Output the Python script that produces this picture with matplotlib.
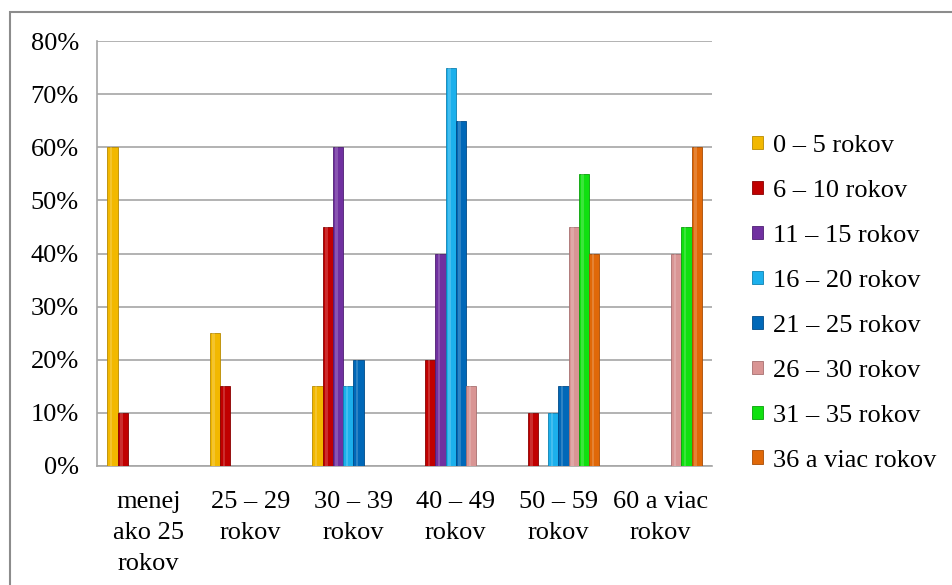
import matplotlib
matplotlib.use("Agg")
import matplotlib.pyplot as plt
import numpy as np
from matplotlib.patches import Rectangle

categories = ["menej\nako 25\nrokov", "25 – 29\nrokov", "30 – 39\nrokov",
              "40 – 49\nrokov", "50 – 59\nrokov", "60 a viac\nrokov"]
series = ["0 – 5 rokov", "6 – 10 rokov", "11 – 15 rokov", "16 – 20 rokov",
          "21 – 25 rokov", "26 – 30 rokov", "31 – 35 rokov", "36 a viac rokov"]
v_0_5 = [60, 25, 15, 0, 0, 0]
v_6_10 = [10, 15, 45, 20, 10, 0]
v_11_15 = [0, 0, 60, 40, 0, 0]
v_16_20 = [0, 0, 15, 75, 10, 0]
v_21_25 = [0, 0, 20, 65, 15, 0]
v_26_30 = [0, 0, 0, 15, 45, 40]
v_31_35 = [0, 0, 0, 0, 55, 45]
v_36 = [0, 0, 0, 0, 40, 60]
values = [v_0_5, v_6_10, v_11_15, v_16_20, v_21_25, v_26_30, v_31_35, v_36]
colors = ["#F2B800", "#C00000", "#7030A0", "#1CB0EC",
          "#0068B8", "#D99594", "#10E010", "#E06808"]
edges = ["#B88A00", "#8A0000", "#4E1F74", "#0E80B0",
         "#004A88", "#A87070", "#08A008", "#A84C04"]

plt.rcParams['font.family'] = ['Liberation Serif', 'DejaVu Serif']

fig = plt.figure(figsize=(9.52, 5.85), dpi=100)
# outer frame
fig.patches.append(Rectangle((10 / 952, -0.1), 1.2, 1 - 12 / 585 + 0.1,
                             transform=fig.transFigure, fill=False,
                             edgecolor="#8c8c8c", linewidth=1.5))

ax = fig.add_axes([97 / 952, 1 - 466 / 585, (712 - 97) / 952, (466 - 41) / 585])
x = np.arange(len(categories))
w = 0.1
for i, (vals, c, ec) in enumerate(zip(values, colors, edges)):
    pos = x - 0.4 + w / 2 + i * w
    ax.bar(pos, vals, width=w, color=c, edgecolor=ec, linewidth=0.6,
           label=series[i], zorder=3)
    # light stripe for the rounded look
    ax.bar(pos - w * 0.12, vals, width=w * 0.25, color="white", alpha=0.18,
           linewidth=0, zorder=4)

ax.set_xlim(-0.5, len(categories) - 0.5)
ax.set_ylim(0, 80)
ax.set_yticks(range(0, 81, 10))
ax.set_yticklabels([f"{t}%" for t in range(0, 81, 10)], fontsize=19)
ax.set_xticks(x)
ax.set_xticklabels(categories, fontsize=19, linespacing=1.53)
ax.tick_params(axis='y', length=0, pad=13)
ax.tick_params(axis='x', length=0, pad=18)
ax.yaxis.grid(True, color="#a6a6a6", linewidth=1.2, zorder=0)
for s in ["top", "right"]:
    ax.spines[s].set_visible(False)
ax.spines["left"].set_color("#a6a6a6")
ax.spines["bottom"].set_color("#a6a6a6")
ax.spines["left"].set_linewidth(1.2)
ax.spines["bottom"].set_linewidth(1.2)

leg = ax.legend(loc="center left", bbox_to_anchor=(1.027, 0.383), frameon=False,
                fontsize=19, handlelength=0.4, handleheight=0.4,
                handletextpad=0.4, labelspacing=0.87)

fig.savefig("out.png", dpi=100)
